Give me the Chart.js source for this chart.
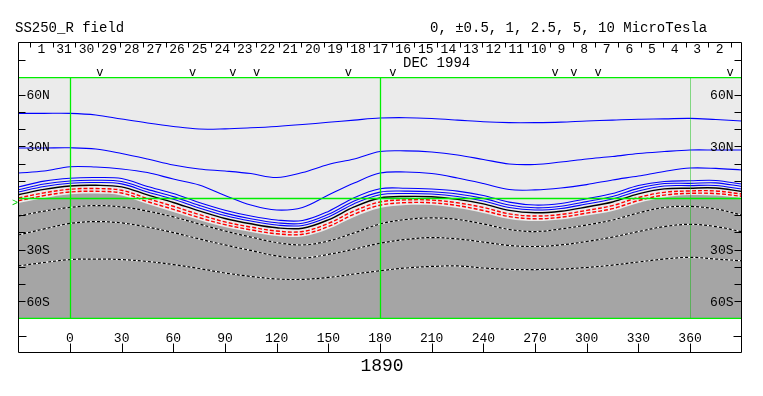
<!DOCTYPE html>
<html>
<head>
<meta charset="utf-8">
<script src="https://cdn.jsdelivr.net/npm/chart.js@4.4.0/dist/chart.umd.min.js"></script>
<style>
  html, body { margin: 0; padding: 0; background: #fff; }
</style>
</head>
<body>
<canvas id="c" width="763" height="396"></canvas>
<script>
// carrington longitude samples (deg) and contour latitudes (deg)
const lons = [-30,-15,0,15,30,45,60,75,90,105,120,135,150,165,180,195,210,225,240,255,270,285,300,315,330,345,360,375,390];

const blue1 = [49.2,49.2,49.2,48.3,45.9,43.6,41.6,40.1,40.2,40.8,41.6,42.7,44.0,45.3,46.5,46.7,46.2,45.3,44.3,43.8,43.8,44.1,44.8,45.3,45.8,46.0,46.3,45.6,44.8];
const blue2 = [29.1,29.1,29.2,28.5,25.9,22.7,19.2,16.9,15.7,14.2,11.9,14.8,19.5,22.7,27.0,27.4,26.7,25.0,22.4,19.8,19.5,20.9,22.7,24.1,25.9,27.0,27.9,27.9,27.9];
const blue3 = [14.5,15.7,18.2,18.0,16.9,14.8,11.0,7.6,1.5,-4.1,-7.0,-5.5,1.7,8.7,14.5,15.1,14.2,11.6,8.4,4.9,4.7,5.8,7.8,10.5,12.8,15.4,17.4,17.2,16.3];
const blue4 = [6.4,9.8,11.5,11.9,11.3,6.7,2.6,-2.6,-7.1,-10.5,-12.8,-13.1,-7.8,0.2,5.4,5.7,5.2,4.0,1.5,-2.4,-4.1,-3.2,-0.4,2.6,7.3,9.6,10.0,10.2,8.1];
const blue5 = [4.8,8.1,9.9,10.3,9.6,5.0,0.8,-4.3,-8.8,-12.1,-14.4,-14.7,-9.5,-1.8,3.4,4.0,3.6,2.3,-0.2,-4.1,-5.7,-4.8,-2.1,0.9,5.6,8.4,8.5,8.8,6.7];
const blue6 = [3.5,6.7,8.6,9.0,8.2,3.5,-0.7,-5.8,-10.2,-13.4,-15.7,-16.0,-11.0,-3.3,1.9,2.6,2.3,0.9,-1.7,-5.5,-7.0,-6.1,-3.5,-0.6,4.1,7.0,7.2,7.3,5.2];
const black0 = [1.9,5.0,7.0,7.4,6.5,1.8,-2.6,-7.5,-11.9,-15.0,-17.3,-17.6,-12.7,-5.2,0.0,0.9,0.7,-0.8,-3.4,-7.2,-8.6,-7.7,-5.2,-2.3,2.4,5.3,5.7,5.8,3.8];
const red1 = [0.0,3.0,5.1,5.5,4.5,-0.3,-4.8,-9.6,-13.9,-16.9,-19.2,-19.5,-14.8,-7.5,-2.3,-1.1,-1.2,-2.8,-5.5,-9.2,-10.5,-9.6,-7.2,-4.4,0.3,3.3,4.1,4.1,2.3];
const red2 = [-1.6,1.4,3.5,3.9,2.9,-2.1,-6.6,-11.4,-15.5,-18.5,-20.8,-21.1,-16.6,-9.4,-4.2,-2.7,-2.8,-4.4,-7.3,-10.8,-12.1,-11.2,-8.8,-6.2,-1.5,1.7,2.7,2.6,1.0];
const neutral = [-2.9,0.0,2.2,2.6,1.5,-3.5,-8.1,-12.8,-16.9,-19.8,-22.1,-22.4,-18.0,-11.0,-5.8,-4.1,-4.1,-5.8,-8.7,-12.2,-13.4,-12.5,-10.2,-7.6,-2.9,0.3,1.7,1.5,0.0];
const neg1 = [-10.5,-7.6,-5.5,-4.4,-5.2,-7.6,-11.0,-15.1,-19.2,-22.7,-25.9,-27.3,-25.0,-20.3,-15.1,-12.5,-11.6,-12.5,-15.1,-18.3,-19.5,-18.0,-15.7,-12.8,-8.7,-5.5,-4.9,-6.4,-9.9];
const neg2 = [-21.5,-18.0,-14.8,-13.7,-14.5,-16.9,-20.1,-23.8,-27.3,-30.5,-33.7,-34.9,-32.8,-29.7,-26.3,-24.1,-23.0,-23.8,-25.6,-27.6,-28.2,-27.3,-25.3,-22.7,-19.5,-16.6,-15.3,-16.6,-19.6];
const neg3 = [-39.5,-37.5,-35.8,-35.5,-35.8,-36.9,-38.7,-41.0,-43.6,-45.6,-47.1,-47.3,-46.2,-44.2,-42.3,-40.7,-39.8,-39.5,-40.7,-41.5,-41.6,-41.3,-40.4,-39.0,-37.2,-35.5,-34.5,-35.5,-36.5];

// axis / annotation values
const lonTicks = [0,30,60,90,120,150,180,210,240,270,300,330,360];
const latTicks = [-60,-50,-40,-30,-20,-10,10,20,30,40,50,60];
const latLabels = [[60,'60N'],[30,'30N'],[-30,'30S'],[-60,'60S']];
const greenLons = [0, 180];
const dimLons = [360];
const dayLabels = ['1','31','30','29','28','27','26','25','24','23','22','21','20','19','18','17','16','15','14','13','12','11','10','9','8','7','6','5','4','3','2'];
const daySep0 = -23.2;   // longitude of first day boundary
const dayDeg = 13.13;    // degrees per day
const markLons = [17.4, 71.2, 94.6, 108.4, 161.6, 187.5, 281.6, 292.6, 306.6, 383.2];
const earthLat = -3;

const MONO = '"Liberation Mono", "DejaVu Sans Mono", monospace';

function line(data, color, width, dash, order) {
  return {
    data: lons.map((x, i) => ({ x, y: data[i] })),
    borderColor: color,
    borderWidth: width,
    borderDash: dash || [],
    pointRadius: 0,
    tension: 0.35,
    fill: false,
    order: order || 0
  };
}

const datasets = [
  Object.assign(line(neutral, 'rgba(0,0,0,0)', 0, null, 30), { fill: 'start', backgroundColor: '#a5a5a5' }),
  line(blue1, '#0000ff', 1.1),
  line(blue2, '#0000ff', 1.1),
  line(blue3, '#0000ff', 1.1),
  line(blue4, '#0000ff', 1.1),
  line(blue5, '#0000ff', 1.1),
  line(blue6, '#0000ff', 1.1),
  line(black0, '#000000', 1.4),
  line(red1, '#ff0000', 1.4, [4, 2]),
  line(red2, '#ff0000', 1.4, [4, 2]),
  line(neg1, '#ffffff', 1.1, null, 11),
  line(neg1, '#000000', 1.2, [3, 2], 10),
  line(neg2, '#ffffff', 1.1, null, 11),
  line(neg2, '#000000', 1.2, [3, 2], 10),
  line(neg3, '#ffffff', 1.1, null, 11),
  line(neg3, '#000000', 1.2, [3, 2], 10)
];

const frame = {
  id: 'frame',
  beforeDraw(chart) {
    const { ctx, chartArea: a } = chart;
    ctx.save();
    ctx.fillStyle = '#fff';
    ctx.fillRect(0, 0, chart.width, chart.height);
    ctx.fillStyle = '#ebebeb';
    ctx.fillRect(a.left, a.top, a.right - a.left, a.bottom - a.top);
    ctx.restore();
  },
  afterDatasetsDraw(chart) {
    const { ctx, chartArea: a, scales: { x, y } } = chart;
    ctx.save();
    // dim meridian
    ctx.strokeStyle = 'rgba(0,190,0,0.45)';
    ctx.lineWidth = 1;
    dimLons.forEach(l => {
      const px = Math.round(x.getPixelForValue(l)) + 0.5;
      ctx.beginPath(); ctx.moveTo(px, a.top); ctx.lineTo(px, a.bottom); ctx.stroke();
    });
    ctx.strokeStyle = '#00ee00';
    ctx.lineWidth = 1.3;
    greenLons.forEach(l => {
      const px = Math.round(x.getPixelForValue(l)) + 0.5;
      ctx.beginPath(); ctx.moveTo(px, a.top); ctx.lineTo(px, a.bottom); ctx.stroke();
    });
    const y0 = Math.round(y.getPixelForValue(0)) + 0.5;
    ctx.beginPath();
    ctx.moveTo(a.left, y0); ctx.lineTo(a.right, y0);
    ctx.moveTo(a.left, a.top); ctx.lineTo(a.right, a.top);
    ctx.moveTo(a.left, a.bottom); ctx.lineTo(a.right, a.bottom);
    ctx.stroke();
    ctx.restore();
  },
  afterDraw(chart) {
    const { ctx, chartArea: a, scales: { x, y } } = chart;
    const L = Math.round(a.left) + 0.5, R = Math.round(a.right) - 0.5;
    const boxTop = 42.5, boxBot = 352.5;
    ctx.save();
    ctx.strokeStyle = '#000';
    ctx.fillStyle = '#000';
    ctx.lineWidth = 1;

    // outer box
    ctx.beginPath();
    ctx.moveTo(L, boxBot); ctx.lineTo(L, boxTop); ctx.lineTo(R, boxTop); ctx.lineTo(R, boxBot); ctx.lineTo(L, boxBot);
    ctx.stroke();

    // latitude ticks both sides
    ctx.beginPath();
    latTicks.forEach(t => {
      const py = Math.round(y.getPixelForValue(t)) + 0.5;
      ctx.moveTo(L, py); ctx.lineTo(L + 7, py);
      ctx.moveTo(R - 7, py); ctx.lineTo(R, py);
    });
    // small side ticks in date strip and bottom strip
    ctx.moveTo(L, 60.5); ctx.lineTo(L + 7, 60.5);
    ctx.moveTo(R - 7, 60.5); ctx.lineTo(R, 60.5);
    ctx.moveTo(L, 336.5); ctx.lineTo(L + 8, 336.5);
    ctx.moveTo(R - 8, 336.5); ctx.lineTo(R, 336.5);
    // longitude ticks
    lonTicks.forEach(t => {
      const px = Math.round(x.getPixelForValue(t)) + 0.5;
      ctx.moveTo(px, boxBot - 9); ctx.lineTo(px, boxBot);
    });
    // day boundaries
    for (let k = 0; k <= dayLabels.length; k++) {
      const px = Math.round(x.getPixelForValue(daySep0 + k * dayDeg)) + 0.5;
      if (px <= L + 1 || px >= R - 1) continue;
      ctx.moveTo(px, boxTop); ctx.lineTo(px, boxTop + 5);
    }
    ctx.stroke();

    // latitude labels
    ctx.font = '13px ' + MONO;
    ctx.textBaseline = 'middle';
    latLabels.forEach(([v, s]) => {
      const py = y.getPixelForValue(v);
      ctx.textAlign = 'left';
      ctx.fillText(s, L + 8, py + 1);
      ctx.textAlign = 'right';
      ctx.fillText(s, R - 8, py + 1);
    });

    // longitude labels
    ctx.textAlign = 'center';
    ctx.textBaseline = 'alphabetic';
    ctx.font = '13px ' + MONO;
    lonTicks.forEach(t => ctx.fillText(String(t), x.getPixelForValue(t), 341.5));

    // day numbers
    dayLabels.forEach((d, k) => {
      ctx.fillText(d, x.getPixelForValue(daySep0 + (k + 0.5) * dayDeg), 52.5);
    });

    // markers
    ctx.font = '12px ' + MONO;
    markLons.forEach(l => ctx.fillText('v', x.getPixelForValue(l), 75.5));

    // earth latitude mark
    ctx.fillStyle = '#00cc00';
    ctx.font = '10px ' + MONO;
    ctx.textAlign = 'right';
    ctx.textBaseline = 'middle';
    ctx.fillText('>', L - 0.5, y.getPixelForValue(earthLat));

    // texts
    ctx.fillStyle = '#000';
    ctx.textBaseline = 'alphabetic';
    ctx.textAlign = 'left';
    ctx.font = '14px ' + MONO;
    ctx.fillText('SS250_R field', 15, 32);
    ctx.fillText('0, \u00b10.5, 1, 2.5, 5, 10 MicroTesla', 430, 32);
    ctx.fillText('DEC 1994', 403, 66.5);
    ctx.textAlign = 'center';
    ctx.font = '18px ' + MONO;
    ctx.fillText('1890', x.getPixelForValue(180) + 2, 371);
    ctx.restore();
  }
};

new Chart(document.getElementById('c'), {
  type: 'line',
  data: { datasets },
  options: {
    responsive: false,
    animation: false,
    layout: { padding: { left: 18.3, right: 21.3, top: 77.6, bottom: 77.6 } },
    scales: {
      x: { type: 'linear', min: -30, max: 390, display: false },
      y: { type: 'linear', min: -70, max: 70, display: false }
    },
    plugins: {
      legend: { display: false },
      tooltip: { enabled: false },
      filler: { drawTime: 'beforeDatasetsDraw' }
    }
  },
  plugins: [frame]
});
</script>
</body>
</html>
